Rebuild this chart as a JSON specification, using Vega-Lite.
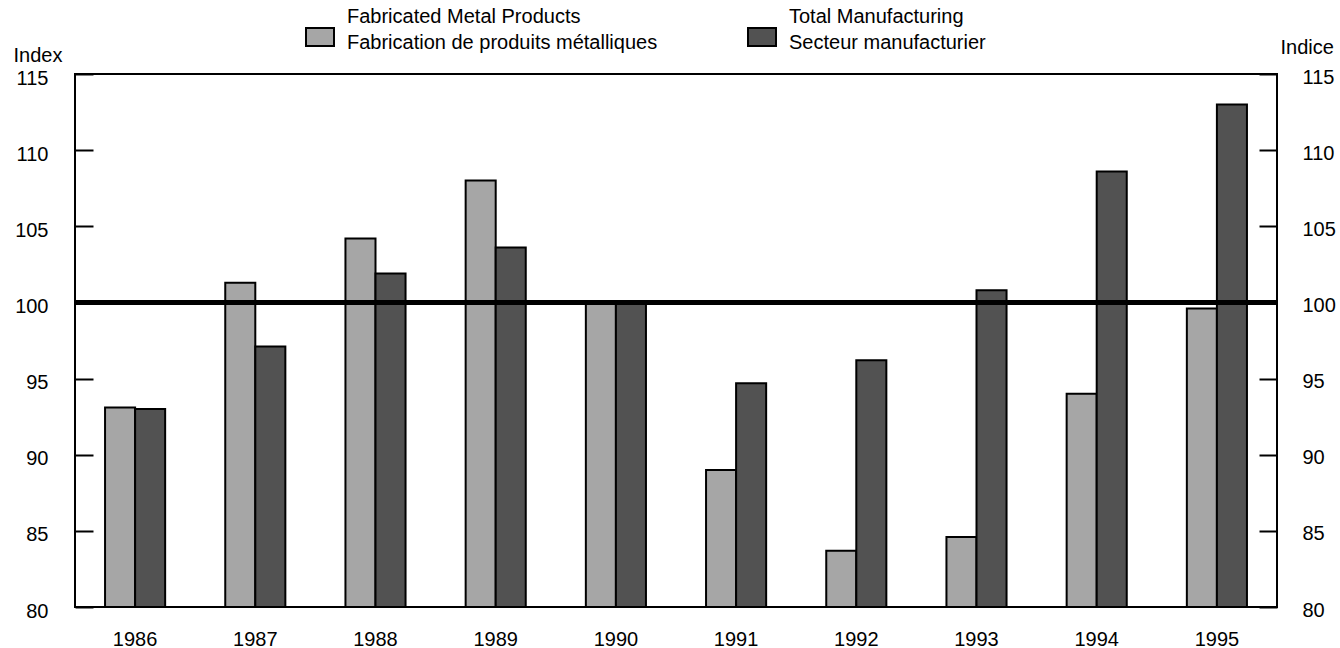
{
  "$schema": "https://vega.github.io/schema/vega-lite/v6.json",
  "width": 1202,
  "height": 533,
  "autosize": {"type": "none"},
  "padding": {"left": 75, "top": 74, "right": 63, "bottom": 41},
  "background": "white",
  "config": {
    "font": "Liberation Sans",
    "view": {"stroke": "black", "strokeWidth": 2},
    "axis": {
      "labelFont": "Liberation Sans",
      "labelFontSize": 20,
      "labelColor": "black",
      "titleFont": "Liberation Sans",
      "titleFontSize": 20,
      "titleFontWeight": "normal",
      "titleColor": "black",
      "grid": false,
      "domain": false
    }
  },
  "data": {
    "values": [
      {"year": "1986", "series": "Fabricated Metal Products / Fabrication de produits métalliques", "value": 93.1},
      {"year": "1986", "series": "Total Manufacturing / Secteur manufacturier", "value": 93.0},
      {"year": "1987", "series": "Fabricated Metal Products / Fabrication de produits métalliques", "value": 101.3},
      {"year": "1987", "series": "Total Manufacturing / Secteur manufacturier", "value": 97.1},
      {"year": "1988", "series": "Fabricated Metal Products / Fabrication de produits métalliques", "value": 104.2},
      {"year": "1988", "series": "Total Manufacturing / Secteur manufacturier", "value": 101.9},
      {"year": "1989", "series": "Fabricated Metal Products / Fabrication de produits métalliques", "value": 108.0},
      {"year": "1989", "series": "Total Manufacturing / Secteur manufacturier", "value": 103.6},
      {"year": "1990", "series": "Fabricated Metal Products / Fabrication de produits métalliques", "value": 100.0},
      {"year": "1990", "series": "Total Manufacturing / Secteur manufacturier", "value": 100.0},
      {"year": "1991", "series": "Fabricated Metal Products / Fabrication de produits métalliques", "value": 89.0},
      {"year": "1991", "series": "Total Manufacturing / Secteur manufacturier", "value": 94.7},
      {"year": "1992", "series": "Fabricated Metal Products / Fabrication de produits métalliques", "value": 83.7},
      {"year": "1992", "series": "Total Manufacturing / Secteur manufacturier", "value": 96.2},
      {"year": "1993", "series": "Fabricated Metal Products / Fabrication de produits métalliques", "value": 84.6},
      {"year": "1993", "series": "Total Manufacturing / Secteur manufacturier", "value": 100.8},
      {"year": "1994", "series": "Fabricated Metal Products / Fabrication de produits métalliques", "value": 94.0},
      {"year": "1994", "series": "Total Manufacturing / Secteur manufacturier", "value": 108.6},
      {"year": "1995", "series": "Fabricated Metal Products / Fabrication de produits métalliques", "value": 99.6},
      {"year": "1995", "series": "Total Manufacturing / Secteur manufacturier", "value": 113.0}
    ]
  },
  "layer": [
    {
      "mark": {"type": "bar", "stroke": "black", "strokeWidth": 2},
      "encoding": {
        "x": {
          "field": "year",
          "type": "ordinal",
          "scale": {"paddingInner": 0.5, "paddingOuter": 0.25},
          "axis": {"title": null, "ticks": false, "labelPadding": 22, "labelAngle": 0}
        },
        "xOffset": {
          "field": "series",
          "type": "nominal",
          "sort": ["Fabricated Metal Products / Fabrication de produits métalliques", "Total Manufacturing / Secteur manufacturier"],
          "scale": {"paddingInner": 0, "paddingOuter": 0}
        },
        "y": {
          "field": "value",
          "type": "quantitative",
          "scale": {"domain": [80, 115], "nice": false, "zero": false},
          "axis": {
            "orient": "left",
            "values": [80, 85, 90, 95, 100, 105, 110, 115],
            "tickSize": -18,
            "tickWidth": 2,
            "tickColor": "black",
            "labelPadding": 45,
            "labelOffset": 4,
            "title": "Index",
            "titleAngle": 0,
            "titleX": -62,
            "titleY": -19,
            "titleAlign": "left",
            "titleBaseline": "middle"
          }
        },
        "y2": {"datum": 80},
        "fill": {
          "field": "series",
          "type": "nominal",
          "scale": {
            "domain": ["Fabricated Metal Products / Fabrication de produits métalliques", "Total Manufacturing / Secteur manufacturier"],
            "range": ["#a6a6a6", "#525252"]
          },
          "legend": {
            "orient": "none",
            "legendX": 234,
            "legendY": -48,
            "direction": "horizontal",
            "title": null,
            "symbolType": "M-1.4,-0.9H1.4V0.9H-1.4Z",
            "symbolSize": 400,
            "symbolStrokeColor": "black",
            "symbolStrokeWidth": 2,
            "symbolOpacity": 1,
            "labelFont": "Liberation Sans",
            "labelFontSize": 20,
            "labelColor": "black",
            "labelOffset": 16,
            "columnPadding": 86,
            "labelLimit": 500,
            "labelExpr": "split(datum.label, ' / ')",
            "encode": {"labels": {"update": {"lineHeight": {"value": 26}, "dy": {"value": -20}}}}
          }
        }
      }
    },
    {
      "mark": {"type": "rule", "strokeWidth": 4, "color": "black"},
      "encoding": {
        "y": {
          "datum": 100,
          "type": "quantitative",
          "scale": {"domain": [80, 115], "nice": false, "zero": false},
          "axis": {
            "orient": "right",
            "values": [80, 85, 90, 95, 100, 105, 110, 115],
            "tickSize": -18,
            "tickWidth": 2,
            "tickColor": "black",
            "labelPadding": 43,
            "labelOffset": 3,
            "title": "Indice",
            "titleAngle": 0,
            "titleX": 3,
            "titleY": -27,
            "titleAlign": "left",
            "titleBaseline": "middle"
          }
        }
      }
    }
  ],
  "resolve": {"scale": {"y": "independent"}}
}
